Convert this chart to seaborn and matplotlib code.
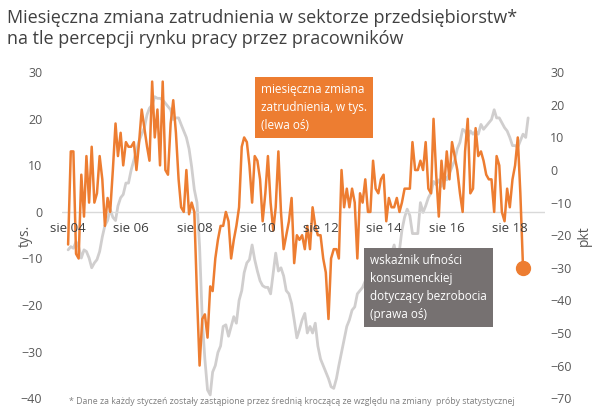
import matplotlib
matplotlib.use("Agg")
import matplotlib.pyplot as plt
import seaborn as sns
import pandas as pd

# monthly employment change, thousands (left axis), from Aug 2004
employment = [
    -7, 13, 13, -9, -10, 8, -1, 12, 2, 14, 2, 4, 12, 7, -3, 3, 0, 9, 19, 12,
    17, 10, 15, 14, 14, 15, 9, 15, 22, 18, 14, 11, 28, 16, 22, 10, 28, 9, 8, 19,
    24, 17, 7, 1, 0, 9, -0.5, 2, 0, -18, -33, -23, -22, -27, -16, -17, -10, -6, -3, -3,
    0, -2, -10, -6, -3, 1, 14, 16, 15, 10, 2, 12, 11, 7, -2, 4, 12, 2, -4, 1,
    13, 0, -8, -5, -2, 3, -11, -5, -6,
    -5, -8, -3, -8, 1, -3, -5, -5, -10, -13, -23, -10, -8, -8, -10, 9, 1, 5, 1, 5,
    2, -10, 4, 2, 7, 0, 0, 11, 5, 4, 7, 8, -2, 3, 1, 1, 3, 0, 2, 5,
    5, 5, 15, 9, 9, 11, 9, 15, 5, 4, 20, 8, -1, 11, 5, 13, 7, 15, 12, 9,
    4, 0, 13, 20, 4, 5, 18, 12, 13, 11, 8, 7, 7, 0, 12, 10, 0, -2, 5, 1,
    7, 10, 16, 4, -12,
]

# consumer confidence: unemployment expectations, points (right axis)
confidence = [
    -24.5, -23.5, -24, -22, -23.5, -27, -24.5, -25, -27, -30, -28.5, -27.5, -25, -20.5, -17, -15.5,
    -12, -14.5, -15.5, -11, -8.5, -7.5, -4, -4, 0, 3, 6, 9, 11, 13, 17, 19,
    20, 22.5, 22, 22, 21.5, 20.5, 19.5, 18.5, 15.5, 16, 16, 14, 12, 10, 6.5, 1,
    -6, -10, -23.5, -46, -58, -67.5, -69, -62, -60, -56, -54, -48, -47.5, -51, -48, -45,
    -47, -40, -37, -31.5, -28.5, -27.5, -23, -27.5, -31, -34, -35.5, -36, -36, -38, -31.5, -25.5,
    -31, -30, -32.5, -37, -38, -41, -46, -51.5, -49, -46, -44,
    -50, -48, -50, -47, -54, -58, -60, -62, -64, -66.5, -67, -64, -60, -56, -52, -48,
    -46, -43, -42, -38, -37, -36, -34, -31.5, -28.5, -27, -27, -27.5, -27, -30, -31.5, -27.5,
    -25.5, -23, -27, -24.5, -18.5, -14.5, -12, -14, -19.5, -19.5, -19.5, -10, -13, -11, -8.5, -7,
    -3.5, -4.5, -3, -5, -1.5, -3, -1, 1, 3, 6.5, 8.5, 12.5, 12, 10, 12, 11,
    12, 11, 14, 12.5, 13.5, 14.5, 15.5, 18.5, 16, 16, 14.5, 13, 12, 10, 7.5, 7.5,
    7, 9, 11, 10, 16,
]

tick_labels = ["sie 04", "sie 06", "sie 08", "sie 10", "sie 12", "sie 14", "sie 16", "sie 18"]
tick_dates = pd.to_datetime(["2004-08-01", "2006-08-01", "2008-08-01", "2010-08-01",
                             "2012-08-01", "2014-08-01", "2016-08-01", "2018-08-01"])

emp_df = pd.DataFrame({"date": pd.date_range("2004-08-01", periods=len(employment), freq="MS"),
                       "value": employment})
conf_df = pd.DataFrame({"date": pd.date_range("2004-08-01", periods=len(confidence), freq="MS"),
                        "value": confidence})

sns.set_style("white")
plt.rcParams["font.family"] = ["Open Sans", "DejaVu Sans"]

ORANGE = "#ED7D31"
GREY = "#D0CECE"
TXT = "#595959"

fig = plt.figure(figsize=(6, 4.13), dpi=100)
ax = fig.add_axes([0.103, 0.036, 0.805, 0.789])
ax2 = ax.twinx()

sns.lineplot(data=conf_df, x="date", y="value", ax=ax2, color=GREY, lw=2)
sns.lineplot(data=emp_df, x="date", y="value", ax=ax, color=ORANGE, lw=1.8)
ax.plot(emp_df["date"].iloc[-1], emp_df["value"].iloc[-1], "o", color=ORANGE, ms=10)

ax.set_zorder(ax2.get_zorder() + 1)
ax.patch.set_visible(False)

ax.set_ylim(-40, 30)
ax2.set_ylim(-70, 30)
ax.set_xlim(pd.Timestamp("2004-05-20"), pd.Timestamp("2019-09-10"))
ax.axhline(0, color="#D9D9D9", lw=1, zorder=0)

for a in (ax, ax2):
    for s in a.spines.values():
        s.set_visible(False)
    a.tick_params(length=0, labelsize=9, colors=TXT)
    a.set_xlabel("")
    a.set_ylabel("")
ax.set_yticks(range(-40, 31, 10))
ax2.set_yticks(range(-70, 31, 10))
ax.set_xticks([])
ax.tick_params(axis="y", pad=14)
ax2.tick_params(axis="y", pad=4)

for d, lab in zip(tick_dates, tick_labels):
    ax.text(d, -3.5, lab, ha="center", va="center", fontsize=9.5, color="#404040")

fig.text(0.03, 0.43, "tys.", rotation=90, fontsize=10, color=TXT, va="center")
fig.text(0.962, 0.43, "pkt", rotation=90, fontsize=10, color=TXT, va="center")

fig.text(0.012, 0.978, "Miesięczna zmiana zatrudnienia w sektorze przedsiębiorstw*\nna tle percepcji rynku pracy przez pracowników",
         fontsize=13, color="#404040", va="top", linespacing=1.2)

fig.text(0.435, 0.8, "miesięczna zmiana\nzatrudnienia, w tys.\n(lewa oś)", fontsize=8.5, color="white",
         va="top", linespacing=1.5,
         bbox=dict(boxstyle="square,pad=0.5", fc=ORANGE, ec="none"))
fig.text(0.617, 0.23, "wskaźnik ufności\nkonsumenckiej\ndotyczący bezrobocia\n(prawa oś)", fontsize=8.5,
         color="white", linespacing=1.5,
         bbox=dict(boxstyle="square,pad=0.5", fc="#767171", ec="none"))

fig.text(0.115, 0.022, "* Dane za każdy styczeń zostały zastąpione przez średnią kroczącą ze względu na zmiany  próby statystycznej",
         fontsize=6.3, color="#7F7F7F")

fig.savefig("out.png", dpi=100)
